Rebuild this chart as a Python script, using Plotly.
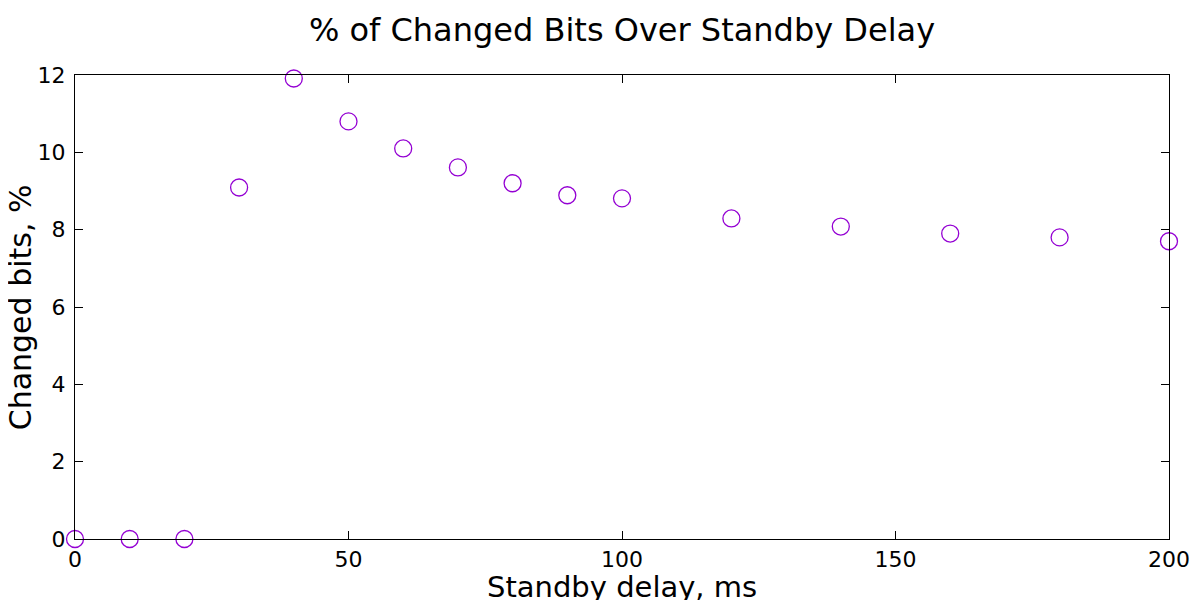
import plotly.graph_objects as go

delay_ms = [0, 10, 20, 30, 40, 50, 60, 70, 80, 90, 100, 120, 140, 160, 180, 200]
changed_pct = [0.0, 0.0, 0.0, 9.09, 11.91, 10.80, 10.10, 9.61, 9.20, 8.89, 8.81, 8.29, 8.08, 7.90, 7.80, 7.70]
x_ticks = [0, 50, 100, 150, 200]
y_ticks = [0, 2, 4, 6, 8, 10, 12]

fig = go.Figure()
fig.add_trace(go.Scatter(
    x=delay_ms, y=changed_pct, mode="markers",
    marker=dict(symbol="circle-open", size=17, color="#9400d3", line=dict(width=1.3)),
    cliponaxis=False, showlegend=False,
))

axis_common = dict(showline=True, mirror="ticks", linecolor="black", linewidth=1.3,
                   ticks="inside", ticklen=8, tickcolor="black", tickwidth=1.3,
                   showgrid=False, zeroline=False, automargin=False,
                   tickfont=dict(size=22, color="black"))

# page body adds an 8px offset, margins below account for it
fig.update_layout(
    width=1200, height=600,
    font=dict(family="DejaVu Sans", color="black"),
    plot_bgcolor="white", paper_bgcolor="white",
    margin=dict(l=67, r=39, t=67, b=69),
    title=dict(text="% of Changed Bits Over Standby Delay", x=0.5, xref="paper",
               y=1 - 22 / 600, yanchor="middle", font=dict(size=32)),
    xaxis=dict(range=[0, 200], tickvals=x_ticks, ticklabelstandoff=0, **axis_common),
    yaxis=dict(range=[0, 12], tickvals=y_ticks, ticklabelstandoff=4, **axis_common),
)

# axis titles as annotations so they sit where gnuplot put them
fig.add_annotation(text="Standby delay, ms", xref="paper", yref="paper", x=0.5, y=-0.103,
                   xanchor="center", yanchor="middle", showarrow=False, font=dict(size=29))
fig.add_annotation(text="Changed bits, %", xref="paper", yref="paper", x=-0.05, y=0.5,
                   xanchor="center", yanchor="middle", textangle=-90, showarrow=False,
                   font=dict(size=30))

fig.write_html("out.html")
